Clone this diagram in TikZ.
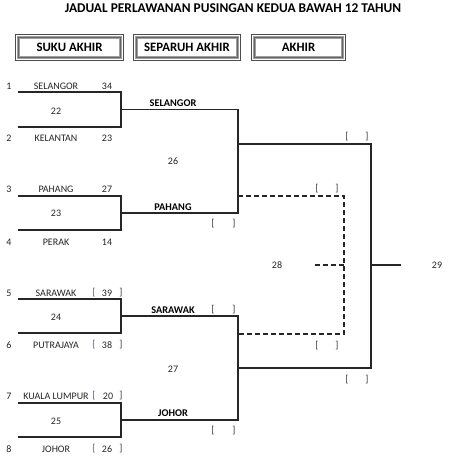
\documentclass[tikz,border=0pt]{standalone}
\usepackage{fontspec}
\setmainfont{Carlito}
\begin{document}
\begin{tikzpicture}[x=1pt,y=-1pt,
  lbl/.style={font=\fontsize{10}{12}\selectfont, text=black!85, inner sep=0pt, anchor=center},
  win/.style={font=\fontsize{10.3}{12}\selectfont\bfseries, text=black, inner sep=0pt},
  hdr/.style={font=\fontsize{12.8}{15}\selectfont\bfseries, inner sep=0pt},
  ttl/.style={font=\fontsize{13.4}{16}\selectfont\bfseries, inner sep=0pt},
  hbox/.style={draw=gray!75, line width=3pt, minimum height=20pt, inner sep=0pt},
  brk/.style={line width=1.3pt, black!85},
  dsh/.style={line width=1.3pt, black!85, dash pattern=on 5pt off 3pt},
  brc/.style={font=\fontsize{10}{12}\selectfont, text=black!80, inner sep=0pt}
]
\useasboundingbox (0,0) rectangle (474,474);
\fill[white] (0,0) rectangle (474,474);

% title
\node[ttl] (title) at (233,8) {JADUAL PERLAWANAN PUSINGAN KEDUA BAWAH 12 TAHUN};

% header boxes
\node[hbox, minimum width=102pt] (h1) at (69.5,47.5) {};
\node[hbox, minimum width=101pt] (h2) at (187,47.5) {};
\node[hbox, minimum width=88pt] (h3) at (298.5,47.5) {};
\foreach \n in {h1,h2,h3}{
  \draw[black!70, line width=0.5pt] ([shift={(-1.5pt,1.5pt)}]\n.north west) rectangle ([shift={(1.5pt,-1.5pt)}]\n.south east);
  \draw[black!60, line width=0.4pt] ([shift={(1.5pt,-1.5pt)}]\n.north west) rectangle ([shift={(-1.5pt,1.5pt)}]\n.south east);
}
\node[hdr] (t1) at (h1) {SUKU AKHIR};
\node[hdr] (t2) at (h2) {SEPARUH AKHIR};
\node[hdr] (t3) at (h3) {AKHIR};

% coordinates
\foreach \nm/\yy in {qa/92,qb/127,qc/196,qd/230,qe/299,qf/333,qg/403,qh/437}{
  \coordinate (\nm L) at (18,\yy);
  \coordinate (\nm R) at (121,\yy);
}
\foreach \nm/\yy in {m22/109.5,m23/213,m24/316,m25/420}{
  \coordinate (\nm L) at (121,\yy);
  \coordinate (\nm R) at (238,\yy);
}
\coordinate (s1L) at (238,144); \coordinate (s1R) at (371,144);
\coordinate (s2L) at (238,368); \coordinate (s2R) at (371,368);
\coordinate (finL) at (371,265); \coordinate (finR) at (401,265);
\coordinate (d1L) at (238,196); \coordinate (d1R) at (344,196);
\coordinate (d2L) at (238,334); \coordinate (d2R) at (344,334);
\coordinate (d3L) at (315,265); \coordinate (d3R) at (344,265);

% brackets
\draw[brk] (qaL) -- (qaR) -- (qbR) -- (qbL);
\draw[brk] (qcL) -- (qcR) -- (qdR) -- (qdL);
\draw[brk] (qeL) -- (qeR) -- (qfR) -- (qfL);
\draw[brk] (qgL) -- (qgR) -- (qhR) -- (qhL);
\draw[brk] (m22L) -- (m22R) -- (m23R) -- (m23L);
\draw[brk] (m24L) -- (m24R) -- (m25R) -- (m25L);
\draw[brk] (s1L) -- (s1R) -- (s2R) -- (s2L);
\draw[brk] (finL) -- (finR);
\draw[dsh] (d1L) -- (d1R) -- (d2R) -- (d2L);
\draw[dsh] (d3L) -- (d3R);

% team labels
\node[lbl] (n1) at (9,86) {1};
\node[lbl] (n2) at (9,138) {2};
\node[lbl] (n3) at (9,189) {3};
\node[lbl] (n4) at (9,242) {4};
\node[lbl] (n5) at (9,293) {5};
\node[lbl] (n6) at (9,345) {6};
\node[lbl] (n7) at (9,396) {7};
\node[lbl] (n8) at (9,449) {8};

\node[lbl] (tm1) at (56,86) {SELANGOR};
\node[lbl] (tm2) at (56,138) {KELANTAN};
\node[lbl] (tm3) at (56,189) {PAHANG};
\node[lbl] (tm4) at (56,242) {PERAK};
\node[lbl] (tm5) at (56,293) {SARAWAK};
\node[lbl] (tm6) at (56,345) {PUTRAJAYA};
\node[lbl] (tm7) at (56,396) {KUALA LUMPUR};
\node[lbl] (tm8) at (56,449) {JOHOR};

\node[lbl] (sc1) at (107,86) {34};
\node[lbl] (sc2) at (107,138) {23};
\node[lbl] (sc3) at (107,189) {27};
\node[lbl] (sc4) at (107,242) {14};
\node[lbl] (sc5) at (107,293) {39};
\node[lbl] (sc6) at (107,345) {38};
\node[lbl] (sc7) at (108,396) {20};
\node[lbl] (sc8) at (107,449) {26};
\foreach \k/\yy in {5/293,6/345,7/396,8/449}{
  \node[brc, text=blue!35!gray] (bo\k) at (94,\yy) {[};
  \node[brc] (bc\k) at (121,\yy) {]};
}

% match numbers
\node[lbl] (g22) at (56,111) {22};
\node[lbl] (g23) at (56,213) {23};
\node[lbl] (g24) at (56,317) {24};
\node[lbl] (g25) at (56,421) {25};
\node[lbl] (g26) at (173,161) {26};
\node[lbl] (g27) at (173,369) {27};
\node[lbl] (g28) at (277,265) {28};
\node[lbl] (g29) at (437,265) {29};

% winners
\node[win] (w1) at (173,103) {SELANGOR};
\node[win] (w2) at (173,207) {PAHANG};
\node[win] (w3) at (173,310) {SARAWAK};
\node[win] (w4) at (173,413) {JOHOR};

% empty score brackets
\foreach \k/\xa/\xb/\yy in {p/213/234/224, q/213/234/310, r/213/234/431, s/347/367/137, t/317/337/189, u/317/337/346, v/347/367/380}{
  \node[brc] (\k o) at (\xa,\yy) {[};
  \node[brc] (\k c) at (\xb,\yy) {]};
}
\end{tikzpicture}
\end{document}
